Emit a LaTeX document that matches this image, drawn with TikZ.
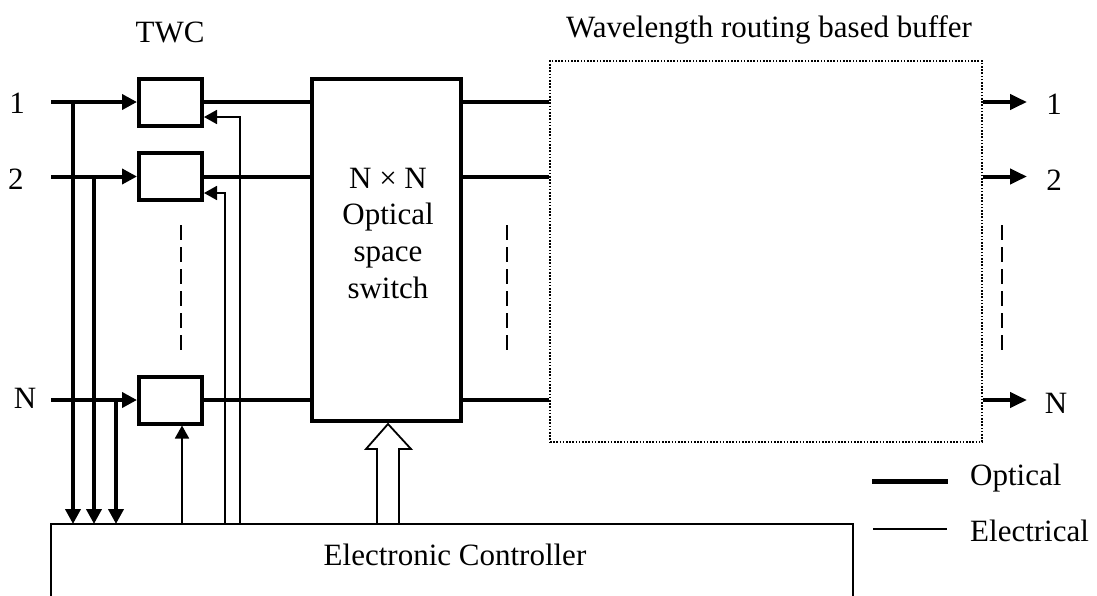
\documentclass[tikz,border=0pt]{standalone}
\usepackage{fontspec}
\setmainfont{Liberation Serif}
\usetikzlibrary{arrows.meta}
\begin{document}
\begin{tikzpicture}[x=1pt,y=-1pt,
  font=\fontsize{31}{36.7}\selectfont,
  opt/.style={line width=4pt},
  el/.style={line width=1.8pt},
  otip/.style={-{Triangle[length=15pt,width=15pt]}},
  outtip/.style={-{Triangle[length=17pt,width=15pt]}},
  etip/.style={-{Triangle[length=13pt,width=14pt]}},
  twcbox/.style={draw, line width=4pt, minimum width=63pt, minimum height=47pt, inner sep=0pt},
  vdash/.style={line width=2pt, dash pattern=on 15pt off 7pt},
  lbl/.style={inner sep=0pt, anchor=base},
  lblw/.style={inner sep=0pt, anchor=base west}
]
\useasboundingbox (0,0) rectangle (1097,595);

% TWC boxes
\node[twcbox] (t1) at (170.5,102) {};
\node[twcbox] (t2) at (170.5,176.5) {};
\node[twcbox] (tN) at (170.5,400) {};

% switch
\node[draw, line width=4pt, minimum width=149pt, minimum height=342pt, inner sep=0pt] (sw) at (386.5,250) {};
\node[inner sep=0pt, anchor=north, align=center] (swtext) at (388,167.5) {N × N\\Optical\\space\\switch};

% buffer
\node[draw, line width=1.6pt, dash pattern=on 1.6pt off 1.6pt, minimum width=432pt, minimum height=381pt, inner sep=0pt] (buf) at (766,251.5) {};

% controller
\coordinate (cBL) at (51,600);
\coordinate (cTL) at (51,524);
\coordinate (cTR) at (853,524);
\coordinate (cBR) at (853,600);
\draw[el] (cBL) -- (cTL) -- (cTR) -- (cBR);
\node[lbl] (ctext) at (455,565) {Electronic Controller};

% texts
\node[lbl] (twclbl) at (170,42) {TWC};
\node[lbl] (buflbl) at (769,37) {Wavelength routing based buffer};
\node[lbl] (in1) at (17,113) {1};
\node[lbl] (in2) at (16,189) {2};
\node[lbl] (inN) at (25,408) {N};
\node[lbl] (on1) at (1054,114) {1};
\node[lbl] (on2) at (1054,190) {2};
\node[lbl] (onN) at (1056,413) {N};

% inputs
\coordinate (i1) at (51,102);
\coordinate (i2) at (51,176.5);
\coordinate (iN) at (51,400);
\draw[opt,otip] (i1) -- (t1.west);
\draw[opt,otip] (i2) -- (t2.west);
\draw[opt,otip] (iN) -- (tN.west);

% taps to controller
\coordinate (d1) at (73,102);
\coordinate (d2) at (94,176.5);
\coordinate (dN) at (116,400);
\draw[opt,otip] (d1) -- (d1 |- cTL);
\draw[opt,otip] (d2) -- (d2 |- cTL);
\draw[opt,otip] (dN) -- (dN |- cTL);

% electrical feedback
\coordinate (e1) at (240,524);
\coordinate (e2) at (225,524);
\coordinate (eN) at (182,524);
\draw[el,etip] (e1) |- ([yshift=-15pt]t1.east);
\draw[el,etip] (e2) |- ([yshift=-16.5pt]t2.east);
\draw[el,etip] (eN) -- (eN |- tN.south);

% TWC to switch
\draw[opt] (t1.east) -- (t1.east -| sw.west);
\draw[opt] (t2.east) -- (t2.east -| sw.west);
\draw[opt] (tN.east) -- (tN.east -| sw.west);

% switch to buffer
\draw[opt] (t1.east -| sw.east) -- (t1.east -| buf.west);
\draw[opt] (t2.east -| sw.east) -- (t2.east -| buf.west);
\draw[opt] (tN.east -| sw.east) -- (tN.east -| buf.west);

% outputs
\coordinate (o1) at (1027,102);
\coordinate (o2) at (1027,176.5);
\coordinate (oN) at (1027,400);
\draw[opt,outtip] (o1 -| buf.east) -- (o1);
\draw[opt,outtip] (o2 -| buf.east) -- (o2);
\draw[opt,outtip] (oN -| buf.east) -- (oN);

% hollow control arrow
\draw[el, line join=miter] (377,524) -- (377,449) -- (366,449) -- (388,424) -- (411,449) -- (399,449) -- (399,524);

% dashed continuation marks
\draw[vdash] (181,225) -- (181,351);
\draw[vdash] (507,225) -- (507,351);
\draw[vdash] (1002,225) -- (1002,351);

% legend
\coordinate (lo1) at (872,481);
\coordinate (lo2) at (948,481);
\coordinate (le1) at (873,529);
\coordinate (le2) at (947,529);
\draw[line width=5pt] (lo1) -- (lo2);
\draw[el] (le1) -- (le2);
\node[lblw] (optlbl) at (970,485) {Optical};
\node[lblw] (ellbl) at (970,541) {Electrical};
\end{tikzpicture}
\end{document}
